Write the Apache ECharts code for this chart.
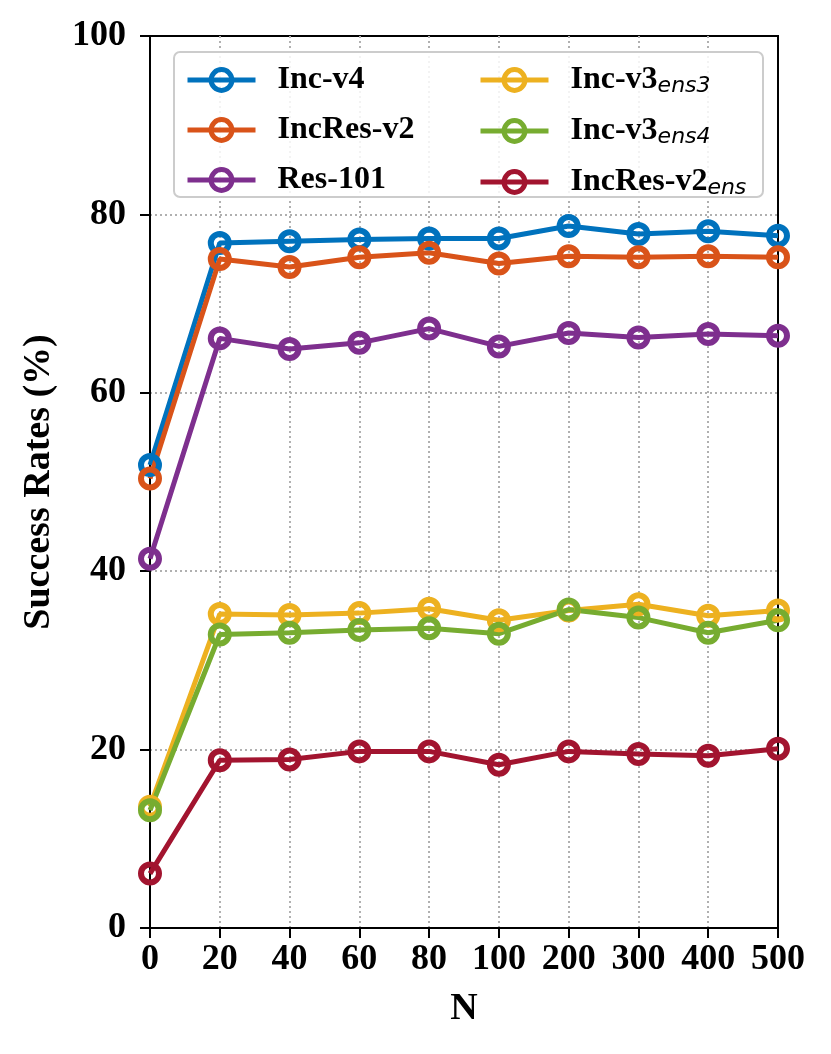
<!DOCTYPE html>
<html>
<head>
<meta charset="utf-8">
<script src="https://cdn.jsdelivr.net/npm/echarts@6/dist/echarts.min.js"></script>
<style>
  html, body { margin: 0; padding: 0; background: #fff; }
  #chart { width: 831px; height: 1054px; }
</style>
</head>
<body>
<div id="chart"></div>
<script>
// values
const nValues = ['0', '20', '40', '60', '80', '100', '200', '300', '400', '500'];
const yTicks = [0, 20, 40, 60, 80, 100];

const incV4       = [51.9, 76.8, 77.0, 77.2, 77.3, 77.3, 78.7, 77.8, 78.1, 77.6];
const incResV2    = [50.4, 75.0, 74.1, 75.2, 75.7, 74.5, 75.3, 75.2, 75.3, 75.2];
const res101      = [41.4, 66.1, 64.9, 65.6, 67.2, 65.2, 66.7, 66.2, 66.6, 66.4];
const incV3ens3   = [13.6, 35.2, 35.1, 35.3, 35.8, 34.5, 35.6, 36.3, 35.0, 35.6];
const incV3ens4   = [13.2, 32.9, 33.1, 33.4, 33.6, 33.0, 35.7, 34.8, 33.1, 34.5];
const incResV2ens = [6.1, 18.8, 18.9, 19.8, 19.8, 18.3, 19.8, 19.5, 19.3, 20.1];

const seriesDefs = [
  {name: 'Inc-v4', data: incV4, color: '#0072BD'},
  {name: 'IncRes-v2', data: incResV2, color: '#D95319'},
  {name: 'Res-101', data: res101, color: '#7E2F8E'},
  {name: 'Inc-v3ens3', data: incV3ens3, color: '#EDB120'},
  {name: 'Inc-v3ens4', data: incV3ens4, color: '#77AC30'},
  {name: 'IncRes-v2ens', data: incResV2ens, color: '#A2142F'}
];

// legend label: main part + italic subscript
const legendLabels = {
  'Inc-v4': '{a|Inc-v4}',
  'IncRes-v2': '{a|IncRes-v2}',
  'Res-101': '{a|Res-101}',
  'Inc-v3ens3': '{a|Inc-v3}{s|ens3}',
  'Inc-v3ens4': '{a|Inc-v3}{s|ens4}',
  'IncRes-v2ens': '{a|IncRes-v2}{s|ens}'
};

const serif = 'Liberation Serif';

const legendText = {
  rich: {
    a: {fontFamily: serif, fontWeight: 'bold', fontSize: 32, color: '#000', lineHeight: 34, padding: [0, 0, 0, 17]},
    s: {fontFamily: 'DejaVu Sans', fontStyle: 'italic', fontSize: 22, color: '#000', lineHeight: 12, verticalAlign: 'bottom'}
  }
};

function makeLegend(names, left) {
  return {
    orient: 'vertical',
    left: left,
    top: 64,
    padding: 0,
    z: 6,
    itemWidth: 68,
    itemHeight: 26,
    itemGap: 18,
    data: names,
    formatter: name => legendLabels[name],
    textStyle: legendText,
    itemStyle: {borderWidth: 5},
    lineStyle: {width: 5}
  };
}

const gridLine = {show: true, showMinLine: false, showMaxLine: false,
  lineStyle: {color: '#b0b0b0', width: 2, type: [2, 3]}};

const chart = echarts.init(document.getElementById('chart'));

chart.setOption({
  backgroundColor: '#fff',
  animation: false,
  grid: {
    left: 150, right: 53, top: 36, bottom: 126,
    show: true, borderColor: '#000', borderWidth: 2
  },
  graphic: [{
    type: 'rect',
    shape: {x: 174, y: 52, width: 589, height: 145, r: 6},
    style: {fill: 'rgba(255,255,255,0.85)', stroke: '#cccccc', lineWidth: 2},
    z: 3
  }],
  legend: [
    makeLegend(seriesDefs.slice(0, 3).map(s => s.name), 185),
    makeLegend(seriesDefs.slice(3).map(s => s.name), 478)
  ],
  xAxis: {
    type: 'category',
    data: nValues,
    boundaryGap: false,
    name: 'N',
    nameLocation: 'middle',
    nameGap: 62,
    nameTextStyle: {fontFamily: serif, fontWeight: 'bold', fontSize: 38, color: '#000'},
    axisLine: {lineStyle: {color: '#000', width: 2}},
    axisTick: {show: true, length: 10, interval: 0, lineStyle: {color: '#000', width: 2}},
    axisLabel: {interval: 0, hideOverlap: false, fontFamily: serif, fontWeight: 'bold', fontSize: 36, color: '#000', margin: 14},
    splitLine: Object.assign({interval: 0}, gridLine)
  },
  yAxis: {
    type: 'value',
    min: yTicks[0],
    max: yTicks[yTicks.length - 1],
    interval: 20,
    name: 'Success Rates (%)',
    nameLocation: 'middle',
    nameGap: 92,
    nameTextStyle: {fontFamily: serif, fontWeight: 'bold', fontSize: 38, color: '#000'},
    axisLine: {show: true, lineStyle: {color: '#000', width: 2}},
    axisTick: {show: true, length: 10, lineStyle: {color: '#000', width: 2}},
    axisLabel: {fontFamily: serif, fontWeight: 'bold', fontSize: 36, color: '#000', margin: 24},
    splitLine: gridLine
  },
  series: seriesDefs.map(s => ({
    name: s.name,
    type: 'line',
    data: s.data,
    symbol: 'circle',
    symbolSize: 18,
    showAllSymbol: true,
    color: s.color,
    lineStyle: {color: s.color, width: 5},
    itemStyle: {color: 'rgba(0,0,0,0)', borderColor: s.color, borderWidth: 6},
    emphasis: {disabled: true}
  }))
});
</script>
</body>
</html>
